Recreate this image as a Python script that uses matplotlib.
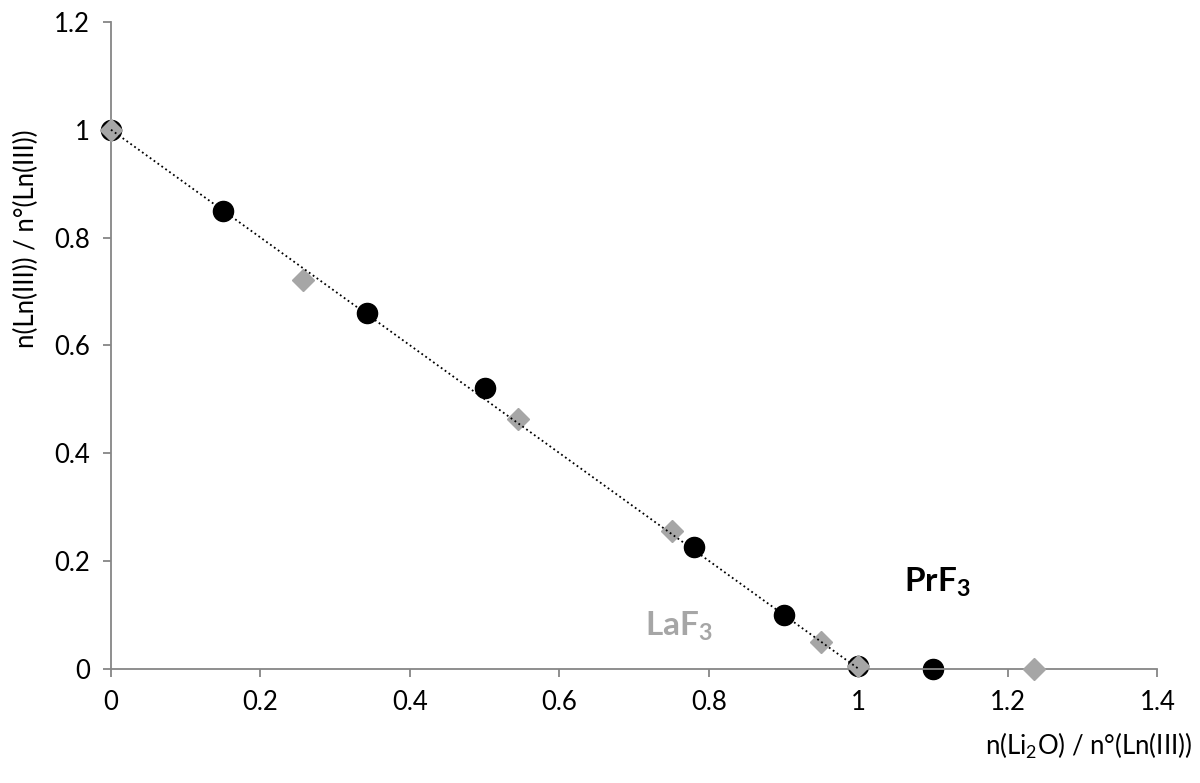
import matplotlib.pyplot as plt

plt.rcParams['font.family'] = ['Lato', 'DejaVu Sans']
plt.rcParams['mathtext.fontset'] = 'custom'
plt.rcParams['mathtext.rm'] = 'Lato'
plt.rcParams['mathtext.bf'] = 'Lato:bold'

# PrF3 (cercles noirs)
pr_x = [0.0, 0.15, 0.343, 0.50, 0.78, 0.90, 1.0, 1.10]
pr_y = [1.0, 0.85, 0.66, 0.52, 0.225, 0.10, 0.005, 0.0]

# LaF3 (losanges gris)
la_x = [0.0, 0.257, 0.545, 0.75, 0.95, 1.0, 1.235]
la_y = [1.0, 0.722, 0.463, 0.256, 0.05, 0.005, 0.0]

# droite théorique
fit_x = [0.0, 1.0]
fit_y = [1.0, 0.0]

xticks = [0, 0.2, 0.4, 0.6, 0.8, 1, 1.2, 1.4]
yticks = [0, 0.2, 0.4, 0.6, 0.8, 1, 1.2]

fig = plt.figure(figsize=(12, 7.83), dpi=100)
ax = fig.add_axes([0.0925, 0.146, 0.872, 0.826])

ax.plot(pr_x, pr_y, 'o', color='black', markersize=14.5, zorder=2, clip_on=False)
ax.plot(la_x, la_y, 'D', color='#a6a6a6', markersize=11, zorder=3, clip_on=False)
ax.plot(fit_x, fit_y, ':', color='black', linewidth=1.3, zorder=4, clip_on=False)

ax.set_xlim(0, 1.4)
ax.set_ylim(0, 1.2)
ax.set_xticks(xticks)
ax.set_xticklabels(['0', '0.2', '0.4', '0.6', '0.8', '1', '1.2', '1.4'])
ax.set_yticks(yticks)
ax.set_yticklabels(['0', '0.2', '0.4', '0.6', '0.8', '1', '1.2'])

for s in ['top', 'right']:
    ax.spines[s].set_visible(False)
for s in ['left', 'bottom']:
    ax.spines[s].set_color('#868686')
    ax.spines[s].set_linewidth(1.3)
ax.tick_params(direction='out', length=6, width=1.3, color='#868686',
               labelsize=18.5, pad=9)

ax.text(0.76, 0.078, 'LaF$_\\mathbf{3}$', color='#a6a6a6', fontsize=24,
        fontweight='bold', ha='center', va='center')
ax.text(1.105, 0.16, 'PrF$_\\mathbf{3}$', color='black', fontsize=24,
        fontweight='bold', ha='center', va='center')

fig.text(0.993, 0.048, 'n(Li$_\\mathregular{2}$O) / n°(Ln(III))', fontsize=18.5,
         ha='right', va='center')
fig.text(0.022, 0.695, 'n(Ln(III)) / n°(Ln(III))', fontsize=18.5, rotation=90,
         ha='center', va='center')

fig.savefig('out.png', dpi=100)
